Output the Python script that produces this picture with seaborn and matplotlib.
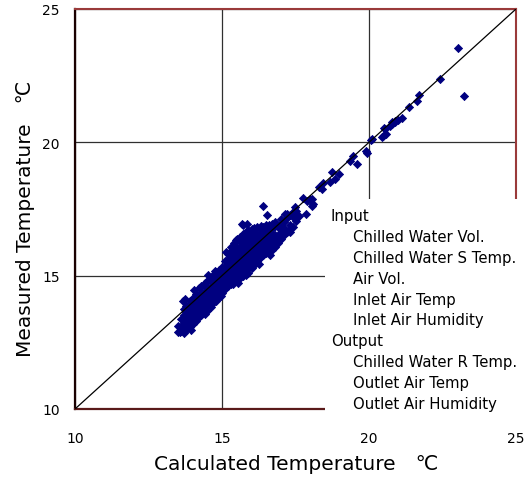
import matplotlib
matplotlib.use("Agg")
import matplotlib.pyplot as plt
from matplotlib.patches import Rectangle
import numpy as np
import pandas as pd
import seaborn as sns

# ---- data ----
core_calc = [13.62, 13.71, 13.79, 13.90, 14.01, 14.10, 14.21, 14.30, 14.41, 14.49,
             14.61, 14.70, 14.79, 14.91, 15.00, 15.09, 15.21, 15.30, 15.41, 15.49,
             15.60, 15.71, 15.80, 15.90, 16.01, 16.10, 16.19, 16.31, 16.40, 16.51,
             16.60, 16.69, 16.81, 16.90, 17.01, 17.10, 17.21, 17.30, 17.41, 17.50,
             17.61]
core_meas = [
    [12.92, 13.12, 13.38],
    [12.86, 13.08, 13.31, 13.52, 13.74],
    [12.98, 13.22, 13.41, 13.63, 13.86],
    [13.07, 13.28, 13.52, 13.71, 13.93, 14.04],
    [13.18, 13.42, 13.61, 13.83, 14.02, 14.17],
    [13.31, 13.49, 13.72, 13.91, 14.12, 14.33],
    [13.44, 13.66, 13.84, 14.07, 14.26, 14.52],
    [13.52, 13.71, 13.93, 14.11, 14.34, 14.62],
    [13.58, 13.82, 14.01, 14.22, 14.43, 14.71],
    [13.68, 13.91, 14.12, 14.31, 14.52, 14.79],
    [13.81, 14.03, 14.21, 14.42, 14.63, 14.86],
    [13.96, 14.16, 14.37, 14.56, 14.77, 15.04],
    [14.06, 14.24, 14.46, 14.67, 14.86, 15.13],
    [14.19, 14.41, 14.62, 14.81, 15.02, 15.21],
    [14.36, 14.57, 14.76, 14.96, 15.14, 15.32],
    [14.49, 14.71, 14.91, 15.12, 15.31, 15.54],
    [14.61, 14.82, 15.01, 15.22, 15.41, 15.62, 15.81],
    [14.69, 14.91, 15.12, 15.31, 15.52, 15.71, 15.91, 16.06],
    [14.79, 15.02, 15.21, 15.42, 15.61, 15.82, 16.02, 16.24],
    [14.86, 15.06, 15.26, 15.46, 15.66, 15.86, 16.07, 16.34],
    [14.91, 15.12, 15.31, 15.52, 15.71, 15.92, 16.11, 16.31, 16.46],
    [14.97, 15.16, 15.36, 15.57, 15.76, 15.97, 16.16, 16.36, 16.56],
    [15.02, 15.22, 15.41, 15.62, 15.82, 16.01, 16.22, 16.41, 16.64],
    [15.11, 15.31, 15.52, 15.71, 15.92, 16.12, 16.31, 16.52, 16.71],
    [15.29, 15.51, 15.72, 15.91, 16.12, 16.31, 16.52, 16.74],
    [15.41, 15.62, 15.81, 16.02, 16.21, 16.42, 16.61, 16.79],
    [15.56, 15.76, 15.96, 16.16, 16.37, 16.56, 16.81],
    [15.71, 15.91, 16.12, 16.31, 16.52, 16.71, 16.86],
    [15.79, 16.01, 16.21, 16.41, 16.62, 16.84],
    [15.86, 16.06, 16.26, 16.46, 16.66, 16.89],
    [15.91, 16.11, 16.31, 16.52, 16.71, 16.91],
    [15.96, 16.16, 16.36, 16.56, 16.76, 16.94],
    [16.06, 16.31, 16.52, 16.86, 17.01],
    [16.22, 16.47, 16.81],
    [16.36, 16.62, 16.93, 17.11],
    [16.51, 16.79, 17.02],
    [16.64, 17.16, 17.31],
    [16.91, 17.27],
    [16.84, 17.21, 17.39],
    [17.06, 17.44],
    [17.24],
]

sparse_calc = [13.51, 13.57, 13.50, 13.68, 13.74, 14.76, 15.38, 15.67, 15.50, 15.72,
               16.41, 16.52, 16.41, 16.97, 17.14, 16.86, 17.26, 17.31, 17.54, 17.86,
               18.10, 18.05, 17.48, 17.77, 17.88, 17.99, 18.05, 18.31, 18.39, 18.45,
               18.67, 18.73, 18.84, 18.99, 19.35, 19.44, 19.58, 19.90, 19.94, 20.06,
               20.09, 20.43, 20.49, 20.58, 20.51, 20.54, 20.71, 20.77, 20.88, 21.00,
               21.11, 20.88, 20.77, 21.36, 21.62, 21.71, 22.43, 23.04, 23.24,
               14.05, 14.52, 15.15, 14.95, 15.55, 16.25, 16.62, 13.95, 15.85]
sparse_meas = [12.87, 12.89, 13.11, 14.06, 14.12, 15.16, 14.69, 16.94, 16.37, 16.90,
               17.62, 17.28, 15.81, 16.37, 17.31, 16.32, 16.69, 16.62, 17.19, 17.31,
               17.69, 17.87, 17.56, 17.90, 17.81, 17.87, 17.62, 18.31, 18.25, 18.47,
               18.50, 18.87, 18.62, 18.81, 19.31, 19.50, 19.19, 19.69, 19.60, 20.09,
               20.12, 20.19, 20.22, 20.31, 20.52, 20.50, 20.62, 20.75, 20.75, 20.85,
               20.90, 20.81, 20.69, 21.31, 21.56, 21.79, 22.37, 23.53, 21.75,
               14.45, 15.02, 15.88, 14.22, 14.72, 15.45, 15.78, 12.98, 16.92]

axis_min, axis_max = 10, 25
tick_values = [10, 15, 20, 25]
x_label = "Calculated Temperature\u3000\u2103"
y_label = "Measured Temperature\u3000\u2103"
legend_lines = [
    ("Input", 0),
    ("Chilled Water Vol.", 1),
    ("Chilled Water S Temp.", 1),
    ("Air Vol.", 1),
    ("Inlet Air Temp", 1),
    ("Inlet Air Humidity", 1),
    ("Output", 0),
    ("Chilled Water R Temp.", 1),
    ("Outlet Air Temp", 1),
    ("Outlet Air Humidity", 1),
]

# ---- build table ----
xs, ys = [], []
for cx, col in zip(core_calc, core_meas):
    for v in col:
        xs.append(cx)
        ys.append(v)
xs += sparse_calc
ys += sparse_meas
df = pd.DataFrame({"calc": xs, "meas": ys})

# ---- figure ----
sns.set_style("white")
plt.rcParams["font.family"] = ["DejaVu Sans", "Noto Sans CJK JP"]
plt.rcParams["text.color"] = "black"
plt.rcParams["axes.labelcolor"] = "black"
plt.rcParams["xtick.color"] = "black"
plt.rcParams["ytick.color"] = "black"

W, H = 528, 481
fig = plt.figure(figsize=(W / 100, H / 100), dpi=100)
ax = fig.add_axes([75 / W, 1 - 410 / H, 441 / W, 400 / H])

navy = "#000080"
sns.scatterplot(data=df, x="calc", y="meas", marker="D", s=17, color=navy,
                edgecolor=navy, linewidth=0.6, ax=ax, zorder=3, legend=False)
ax.plot([axis_min, axis_max], [axis_min, axis_max], color="black", lw=0.9, zorder=4)

ax.set_xlim(axis_min, axis_max)
ax.set_ylim(axis_min, axis_max)
ax.set_xticks(tick_values)
ax.set_yticks(tick_values)
ax.grid(True, color="#303030", lw=0.9)
ax.set_axisbelow(True)
ax.tick_params(axis="both", length=0, labelsize=10, colors="black")
ax.tick_params(axis="x", pad=16)
ax.tick_params(axis="y", pad=11)

ax.spines["left"].set_color("#1a0000")
ax.spines["left"].set_linewidth(1.6)
ax.spines["bottom"].set_color("#5a1a1a")
ax.spines["bottom"].set_linewidth(1.6)
for s in ("top", "right"):
    ax.spines[s].set_color("#9a3a3a")
    ax.spines[s].set_linewidth(1.5)

ax.set_xlabel(x_label, fontsize=14.5, color="black")
ax.set_ylabel(y_label, fontsize=14.5, color="black")
ax.xaxis.set_label_coords((296 - 75) / 441, (410 - 455) / 400)
ax.yaxis.set_label_coords((35 - 75) / 441, (410 - 219) / 400)

# white legend box covering part of the plot
fig.patches.append(Rectangle((325 / W, 1 - 416 / H), (W - 325) / W, (416 - 200) / H,
                             transform=fig.transFigure, facecolor="white",
                             edgecolor="none", zorder=5))
for i, (txt, indent) in enumerate(legend_lines):
    xpx = 331 if indent == 0 else 353
    base = 221.5 + 20.8 * i
    fig.text(xpx / W, 1 - base / H, txt, fontsize=10.7, ha="left", va="baseline",
             color="black", zorder=6)

fig.savefig("out.png", dpi=100)
